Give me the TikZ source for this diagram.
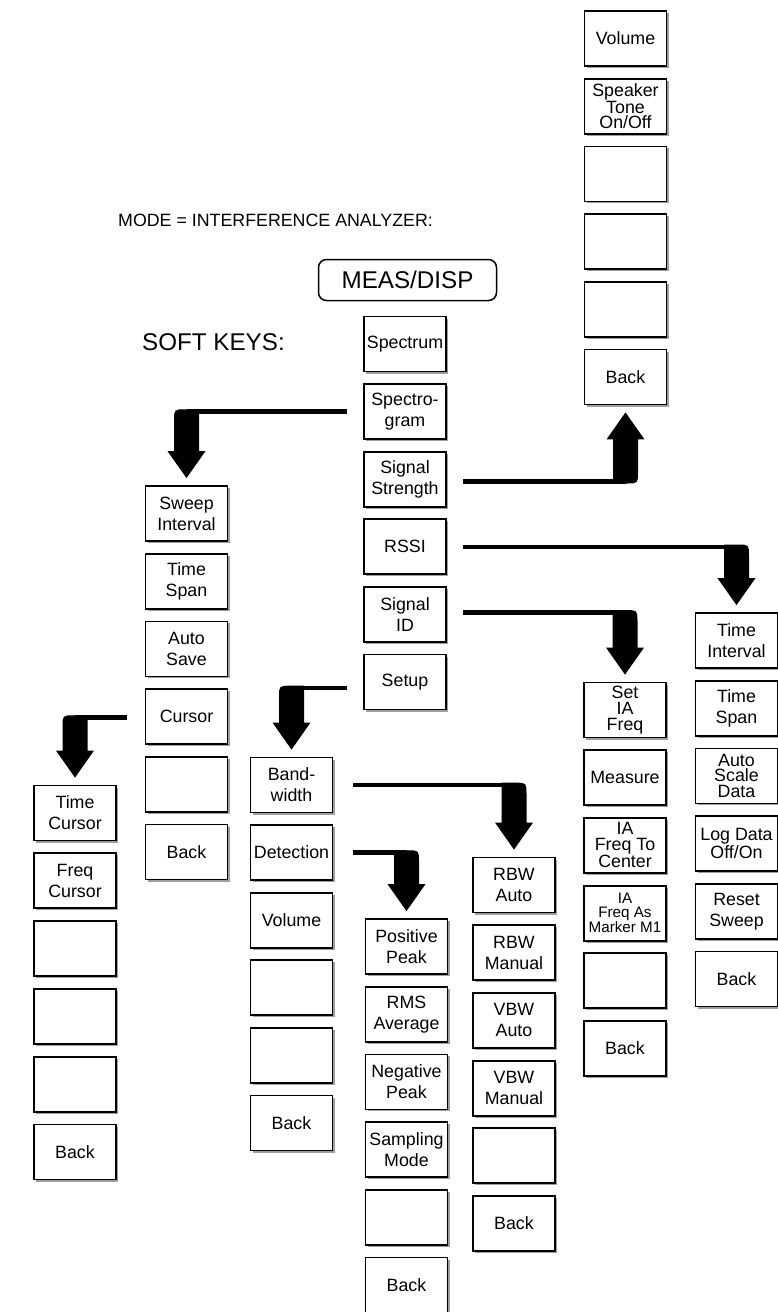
\documentclass[tikz,border=0pt]{standalone}
\usepackage{fontspec}
\setmainfont{Liberation Sans}
\usetikzlibrary{calc,shadows}

% Bent "soft key" arrow: #1 = horizontal sense (+1 right, -1 left),
% #2 = vertical sense on the canvas (-1 down, +1 up),
% #3 = start of the thin lead line, #4 = anchor of the key it points at.
\newcommand\bentarrow[4]{%
  \draw[line width=4.6pt] let \p1=(#3), \p2=(#4) in (\p1) -- (\x2,\y1);
  \fill let \p1=(#3), \p2=(#4) in
    ({\x2-(#1)*12.5pt},{\y1-(#2)*2.3pt})
    -- ({\x2+(#1)*1pt},{\y1-(#2)*2.3pt})
    .. controls ({\x2+(#1)*12.5pt},{\y1-(#2)*2.3pt}) ..
       ({\x2+(#1)*12.5pt},{\y1-(#2)*2.3pt+(#2)*11.5pt})
    -- ({\x2+(#1)*12.5pt},{\y2-(#2)*34pt})
    -- ({\x2+(#1)*19pt},{\y2-(#2)*34pt})
    -- ({\x2},{\y2-(#2)*7pt})
    -- ({\x2-(#1)*19pt},{\y2-(#2)*34pt})
    -- ({\x2-(#1)*12.5pt},{\y2-(#2)*34pt})
    -- cycle;
}

\tikzset{
  softkey/.style={draw=black, line width=1.8pt, fill=white,
    minimum width=82pt, minimum height=55pt, inner sep=0pt,
    align=center, font=\fontsize{17.8}{21}\selectfont,
    drop shadow={shadow xshift=2pt, shadow yshift=-2pt,
      fill=black!38, opacity=1}},
  tight/.style={font=\fontsize{17.8}{15.8}\selectfont},
  heading/.style={anchor=west, inner sep=0pt, font=\fontsize{24.2}{28}\selectfont},
}

\begin{document}
\begin{tikzpicture}[x=1pt, y=-1pt]
\useasboundingbox (0,0) rectangle (778,1312);

% titles
\node[anchor=west, inner sep=0pt, font=\fontsize{17.8}{21}\selectfont]
  (mode) at (118,220) {MODE = INTERFERENCE ANALYZER:};
\node[heading] (soft) at (142,342) {SOFT KEYS:};
\node[draw, line width=1.5pt, rounded corners=8pt, minimum width=178pt,
  minimum height=41pt, inner sep=0pt, font=\fontsize{24.2}{28}\selectfont]
  (meas) at (407.5,280) {MEAS/DISP};

% MEAS/DISP soft keys
\node[softkey] (spec)  at (405,344)   {Spectrum};
\node[softkey] (sgram) at (405,411.6) {Spectro-\\gram};
\node[softkey] (sstr)  at (405,479.2) {Signal\\Strength};
\node[softkey] (rssi)  at (405,546.8) {RSSI};
\node[softkey] (sid)   at (405,614.4) {Signal\\ID};
\node[softkey] (setup) at (405,682)   {Setup};

% Signal Strength menu
\node[softkey] (ssvol)  at (625.5,38.5)  {Volume};
\node[softkey,tight] (sstone) at (625.5,106.2) {Speaker\\Tone\\On/Off};
\node[softkey] (ssb1)   at (625.5,173.9) {};
\node[softkey] (ssb2)   at (625.5,241.6) {};
\node[softkey] (ssb3)   at (625.5,309.3) {};
\node[softkey] (ssback) at (625.5,377)   {Back};

% Spectrogram menu
\node[softkey] (sweep)  at (186.5,513.5) {Sweep\\Interval};
\node[softkey] (tspan)  at (186.5,581.2) {Time\\Span};
\node[softkey] (asave)  at (186.5,648.9) {Auto\\Save};
\node[softkey] (cursor) at (186.5,716.6) {Cursor};
\node[softkey] (sgb1)   at (186.5,784.3) {};
\node[softkey] (sgback) at (186.5,852)   {Back};

% Cursor menu
\node[softkey] (tcur)   at (75,813)    {Time\\Cursor};
\node[softkey] (fcur)   at (75,880.8)  {Freq\\Cursor};
\node[softkey] (cub1)   at (75,948.6)  {};
\node[softkey] (cub2)   at (75,1016.4) {};
\node[softkey] (cub3)   at (75,1084.2) {};
\node[softkey] (cuback) at (75,1152)   {Back};

% Setup menu
\node[softkey] (bw)     at (291.5,785)    {Band-\\width};
\node[softkey] (det)    at (291.5,852.6)  {Detection};
\node[softkey] (suvol)  at (291.5,920.2)  {Volume};
\node[softkey] (sub1)   at (291.5,987.8)  {};
\node[softkey] (sub2)   at (291.5,1055.4) {};
\node[softkey] (suback) at (291.5,1123)   {Back};

% Detection menu
\node[softkey] (pos)    at (406.5,946.5)  {Positive\\Peak};
\node[softkey] (rms)    at (406.5,1014.2) {RMS\\Average};
\node[softkey] (neg)    at (406.5,1081.9) {Negative\\Peak};
\node[softkey] (samp)   at (406.5,1149.6) {Sampling\\Mode};
\node[softkey] (deb1)   at (406.5,1217.3) {};
\node[softkey] (deback) at (406.5,1285)   {Back};

% Bandwidth menu
\node[softkey] (rbwa)   at (514,885)    {RBW\\Auto};
\node[softkey] (rbwm)   at (514,952.7)  {RBW\\Manual};
\node[softkey] (vbwa)   at (514,1020.4) {VBW\\Auto};
\node[softkey] (vbwm)   at (514,1088.1) {VBW\\Manual};
\node[softkey] (bwb1)   at (514,1155.8) {};
\node[softkey] (bwback) at (514,1223.5) {Back};

% Signal ID menu
\node[softkey,tight] (setia) at (625,710) {Set\\IA\\Freq};
\node[softkey] (meas2)  at (625,777.7)  {Measure};
\node[softkey,tight] (iactr) at (625,845.4) {IA\\Freq To\\Center};
\node[softkey,font=\fontsize{15.2}{14}\selectfont] (iamk) at (625,913.1) {IA\\Freq As\\Marker M1};
\node[softkey] (idb1)   at (625,980.8)  {};
\node[softkey] (idback) at (625,1048.5) {Back};

% RSSI menu
\node[softkey] (tint)   at (736.5,640.5) {Time\\Interval};
\node[softkey] (rtspan) at (736.5,708.2) {Time\\Span};
\node[softkey,tight] (ascale) at (736.5,775.9) {Auto\\Scale\\Data};
\node[softkey,font=\fontsize{17.8}{14.5}\selectfont] (logd) at (736.5,843.6) {Log Data\\Off/On};
\node[softkey] (reset)  at (736.5,911.3) {Reset\\Sweep};
\node[softkey] (rsback) at (736.5,979)   {Back};

% connectors
\bentarrow{-1}{-1}{$(sgram.west)+(-16,0)$}{sweep.north}
\bentarrow{1}{1}{$(sstr.east)+(16,2)$}{ssback.south}
\bentarrow{1}{-1}{$(rssi.east)+(16,0)$}{tint.north}
\bentarrow{1}{-1}{$(sid.east)+(16,-2)$}{setia.north}
\bentarrow{-1}{-1}{$(setup.west)+(-16,6)$}{bw.north}
\bentarrow{-1}{-1}{$(cursor.west)+(-18,1)$}{tcur.north}
\bentarrow{1}{-1}{$(bw.east)+(20,0)$}{rbwa.north}
\bentarrow{1}{-1}{$(det.east)+(20,0)$}{pos.north}
\end{tikzpicture}
\end{document}
